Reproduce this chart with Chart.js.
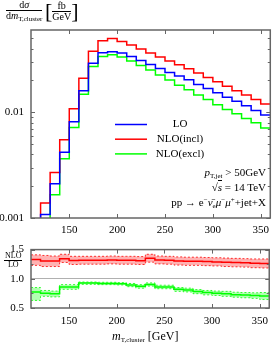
<!DOCTYPE html>
<html>
<head>
<meta charset="utf-8">
<script src="https://cdn.jsdelivr.net/npm/chart.js@4"></script>
<style>
body { margin: 0; background: #fff; }
#wrap { position: relative; width: 275px; height: 345px; overflow: hidden;
        font-family: "Liberation Serif", "DejaVu Serif", serif; color: #000; }
canvas { position: absolute; left: 0; }
.lbl { position: absolute; white-space: nowrap; font-size: 11px; line-height: 12px; }
.it { font-style: italic; }
.sb { font-size: 7px; position: relative; top: 2px; }
.sp { font-size: 7px; position: relative; top: -4px; }
.frac { display: inline-block; vertical-align: middle; text-align: center; }
.frac > span { display: block; }
.frac .num { border-bottom: 1px solid #000; padding: 0 1px; }
</style>
</head>
<body>
<div id="wrap">
  <canvas id="main" width="275" height="240" style="top:0"></canvas>
  <canvas id="ratio" width="275" height="109" style="top:236px"></canvas>

  <!-- y title -->
  <div class="lbl" style="left:6px; top:0px; font-size:10px; line-height:10px;">
    <span class="frac"><span class="num">d<span class="it">σ</span></span><span>d<span class="it">m</span><span class="sb" style="font-size:7px">T,cluster</span></span></span>
    <span style="font-size:22px; vertical-align:middle;">[</span><span class="frac"><span class="num">fb</span><span>GeV</span></span><span style="font-size:22px; vertical-align:middle;">]</span>
  </div>

  <!-- process info -->
  <div class="lbl" style="right:9px; top:166px;"><span class="it">p</span><span class="sb">T,jet</span> &gt; 50GeV</div>
  <div class="lbl" style="right:9px; top:181px;">√<span class="it" style="border-top:1px solid #000">s</span> = 14 TeV</div>
  <div class="lbl" style="right:9px; top:196px;">pp → e<span class="sp">−</span><span class="it">ν̄</span><span class="sb">e</span><span class="it">μ</span><span class="sp">−</span><span class="it">μ</span><span class="sp">+</span>+jet+X</div>

  <!-- ratio label -->
  <div class="lbl" style="left:4px; top:252px; font-size:8px; line-height:8px;">
    <span class="frac"><span class="num">NLO</span><span>LO</span></span>
  </div>

  <!-- x title -->
  <div class="lbl" style="left:112px; top:330px; font-size:12px;"><span class="it">m</span><span class="sb">T,cluster</span> [GeV]</div>
</div>

<script>
// bin edges (GeV), 10 GeV bins
const binEdges = [110, 120, 130, 140, 150, 160, 170, 180, 190, 200, 210, 220, 230,
                  240, 250, 260, 270, 280, 290, 300, 310, 320, 330, 340, 350, 360];

// dsigma/dm [fb/GeV] per bin (null = below plot range)
const loValues = [null, 0.00108, 0.00211, 0.00418, 0.00813, 0.0160, 0.0291, 0.0365, 0.0373,
                  0.0364, 0.0337, 0.0309, 0.0283, 0.0259, 0.0238, 0.0220, 0.0203, 0.0183,
                  0.0168, 0.0153, 0.0139, 0.0127, 0.0115, 0.0104, 0.0094];
const nloInclValues = [null, 0.00139, 0.00270, 0.00551, 0.0108, 0.0210, 0.0378, 0.0474, 0.0499,
                       0.0467, 0.0433, 0.0397, 0.0364, 0.0333, 0.0305, 0.0281, 0.0258, 0.0235,
                       0.0213, 0.0194, 0.0176, 0.0160, 0.0146, 0.0132, 0.0120];
const nloExclValues = [null, null, 0.00166, 0.00364, 0.00719, 0.0148, 0.0271, 0.0337, 0.0350,
                       0.0333, 0.0305, 0.0277, 0.0251, 0.0225, 0.0202, 0.0180, 0.0163, 0.0146,
                       0.0132, 0.0118, 0.0106, 0.00966, 0.00872, 0.00794, 0.00709];

// NLO/LO ratios with scale bands
const ratioIncl   = [1.33, 1.305, 1.305, 1.343, 1.313, 1.316, 1.316, 1.316, 1.322, 1.316, 1.316, 1.311, 1.354,
                     1.322, 1.316, 1.305, 1.30, 1.30, 1.295, 1.289, 1.284, 1.279, 1.274, 1.268, 1.263];
const ratioInclHi = [1.41, 1.40, 1.39, 1.42, 1.385, 1.385, 1.385, 1.385, 1.39, 1.385, 1.385, 1.38, 1.42,
                     1.39, 1.385, 1.375, 1.37, 1.37, 1.365, 1.36, 1.355, 1.35, 1.345, 1.34, 1.34];
const ratioInclLo = [1.23, 1.21, 1.21, 1.28, 1.245, 1.25, 1.25, 1.25, 1.255, 1.25, 1.25, 1.245, 1.285,
                     1.255, 1.25, 1.235, 1.23, 1.23, 1.225, 1.22, 1.21, 1.205, 1.20, 1.19, 1.185];
const ratioExcl   = [0.776, 0.754, 0.744, 0.861, 0.861, 0.926, 0.926, 0.92, 0.92, 0.915, 0.894, 0.872, 0.904,
                     0.861, 0.861, 0.819, 0.808, 0.781, 0.765, 0.754, 0.744, 0.728, 0.722, 0.712, 0.706];
const ratioExclHi = [0.85, 0.80, 0.79, 0.90, 0.90, 0.945, 0.945, 0.94, 0.94, 0.935, 0.92, 0.90, 0.93,
                     0.89, 0.89, 0.85, 0.84, 0.815, 0.80, 0.79, 0.785, 0.77, 0.765, 0.76, 0.765];
const ratioExclLo = [0.63, 0.70, 0.69, 0.82, 0.82, 0.905, 0.905, 0.90, 0.90, 0.895, 0.865, 0.84, 0.875,
                     0.83, 0.83, 0.785, 0.775, 0.745, 0.725, 0.715, 0.70, 0.685, 0.675, 0.665, 0.645];

// axis ticks
const xTicks = [150, 200, 250, 300, 350];
const yTicks = [0.001, 0.01];
const yMinorTicks = [0.002, 0.003, 0.004, 0.005, 0.006, 0.007, 0.008, 0.009, 0.02, 0.03, 0.04, 0.05];
const ratioTicks = [0.5, 1.0, 1.5];
const ratioMinorTicks = [0.75, 1.25];

Chart.defaults.font.family = '"Liberation Serif", "DejaVu Serif", serif';
Chart.defaults.font.size = 11;
Chart.defaults.color = '#000';

// histogram -> stepped points; rise from below the axis where the histogram starts
function steps(vals, floor) {
  const pts = [];
  vals.forEach((v, i) => {
    if (v === null) return;
    if (!pts.length && floor !== undefined) pts.push({x: binEdges[i], y: floor});
    pts.push({x: binEdges[i], y: v});
  });
  pts.push({x: binEdges[vals.length], y: vals[vals.length - 1]});
  return pts;
}

function line(label, vals, color, floor) {
  return {label, data: steps(vals, floor), borderColor: color, borderWidth: 1.5,
          stepped: 'before', pointRadius: 0, fill: false};
}

function frameTicks(majorY, minorY) {
  return {
    id: 'frameTicks',
    afterDatasetsDraw(chart) {
      const {ctx, chartArea: a, scales: {x, y}} = chart;
      ctx.save();
      ctx.strokeStyle = '#666';
      ctx.lineWidth = 1;
      ctx.beginPath();
      xTicks.forEach(v => {
        const px = Math.round(x.getPixelForValue(v)) + 0.5;
        ctx.moveTo(px, a.bottom); ctx.lineTo(px, a.bottom - 4);
        ctx.moveTo(px, a.top); ctx.lineTo(px, a.top + 4);
      });
      [[majorY, 4], [minorY, 2.5]].forEach(([list, len]) => list.forEach(v => {
        const py = Math.round(y.getPixelForValue(v)) + 0.5;
        ctx.moveTo(a.left, py); ctx.lineTo(a.left + len, py);
        ctx.moveTo(a.right, py); ctx.lineTo(a.right - len, py);
      }));
      ctx.stroke();
      ctx.lineWidth = 1.5;
      ctx.strokeRect(a.left, a.top, a.right - a.left, a.bottom - a.top);
      ctx.restore();
    }
  };
}

const keyPlugin = {
  id: 'key',
  afterDatasetsDraw(chart) {
    const ctx = chart.ctx;
    ctx.save();
    ctx.font = '11px "Liberation Serif", serif';
    ctx.textAlign = 'center';
    ctx.textBaseline = 'middle';
    ctx.fillStyle = '#000';
    chart.data.datasets.forEach((ds, i) => {
      const y = 124.5 + i * 14.7;
      ctx.strokeStyle = ds.borderColor;
      ctx.lineWidth = 1.5;
      ctx.beginPath(); ctx.moveTo(115, y); ctx.lineTo(147, y); ctx.stroke();
      ctx.fillText(ds.label, 180, y);
    });
    ctx.restore();
  }
};

const FLOOR = 1e-4;

new Chart(document.getElementById('main'), {
  type: 'line',
  data: {
    datasets: [
      line('LO', loValues, '#0000ff', FLOOR),
      line('NLO(incl)', nloInclValues, '#ff0000', FLOOR),
      line('NLO(excl)', nloExclValues, '#00ff00', FLOOR)
    ]
  },
  options: {
    responsive: false,
    animation: false,
    layout: {padding: {top: 30, right: 1, left: 0, bottom: 0}},
    plugins: {legend: {display: false}, tooltip: {enabled: false}},
    scales: {
      x: {
        type: 'linear', min: 110, max: 360, bounds: 'data',
        grid: {display: false, drawTicks: false}, border: {display: false},
        afterBuildTicks: s => { s.ticks = xTicks.map(v => ({value: v})); },
        afterFit: s => { s.height = 22; },
        ticks: {padding: 6, maxRotation: 0, autoSkip: false}
      },
      y: {
        type: 'logarithmic', min: 0.001, max: 0.06, bounds: 'data',
        grid: {display: false, drawTicks: false}, border: {display: false},
        afterBuildTicks: s => { s.ticks = yTicks.map(v => ({value: v})); },
        afterFit: s => { s.width = 31; },
        ticks: {padding: 7, callback: v => String(v)}
      }
    }
  },
  plugins: [frameTicks(yTicks, yMinorTicks), keyPlugin]
});

function band(vals, color, fillColor) {
  return {data: steps(vals), borderColor: color, borderWidth: 0.8, borderDash: [2, 2],
          stepped: 'before', pointRadius: 0, fill: fillColor ? '+1' : false,
          backgroundColor: fillColor || 'transparent'};
}

new Chart(document.getElementById('ratio'), {
  type: 'line',
  data: {
    datasets: [
      line('NLO(incl)/LO', ratioIncl, '#ff0000'),
      band(ratioInclHi, '#ff0000', 'rgba(255,0,0,0.3)'),
      band(ratioInclLo, '#ff0000'),
      line('NLO(excl)/LO', ratioExcl, '#00ff00'),
      band(ratioExclHi, '#00ff00', 'rgba(0,255,0,0.3)'),
      band(ratioExclLo, '#00ff00')
    ]
  },
  options: {
    responsive: false,
    animation: false,
    layout: {padding: {top: 10, right: 1, left: 0, bottom: 0}},
    plugins: {legend: {display: false}, tooltip: {enabled: false}},
    scales: {
      x: {
        type: 'linear', min: 110, max: 360, bounds: 'data',
        grid: {display: false, drawTicks: false}, border: {display: false},
        afterBuildTicks: s => { s.ticks = xTicks.map(v => ({value: v})); },
        afterFit: s => { s.height = 37; },
        ticks: {padding: 7, maxRotation: 0, autoSkip: false}
      },
      y: {
        type: 'linear', min: 0.5, max: 1.5, bounds: 'data',
        grid: {drawTicks: false, color: c => (c.tick && c.tick.value === 1 ? '#b0b0b0' : 'rgba(0,0,0,0)')},
        border: {display: false},
        afterBuildTicks: s => { s.ticks = ratioTicks.map(v => ({value: v})); },
        afterFit: s => { s.width = 31; },
        ticks: {padding: 7, callback: v => v.toFixed(1)}
      }
    }
  },
  plugins: [frameTicks(ratioTicks, ratioMinorTicks)]
});
</script>
</body>
</html>
